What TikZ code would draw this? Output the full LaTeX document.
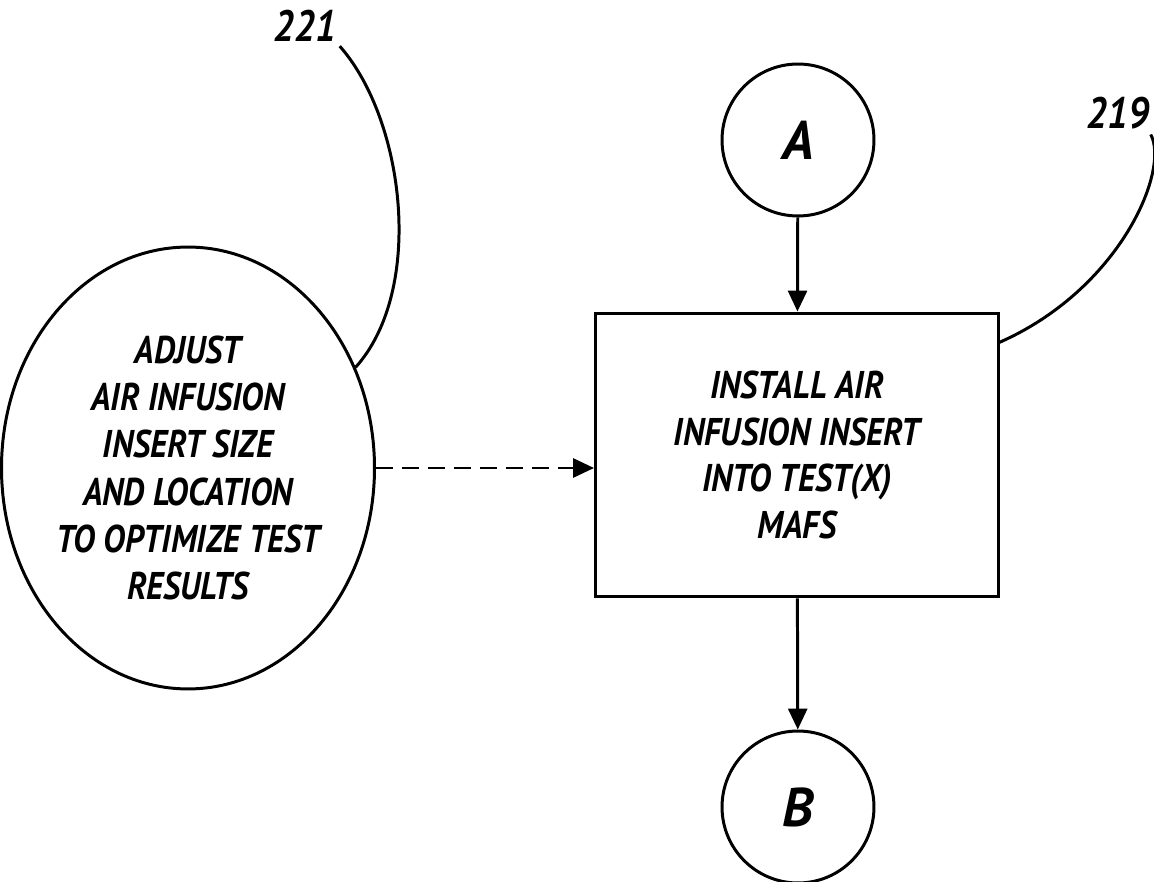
\documentclass[tikz,border=0pt]{standalone}
\usepackage{fontspec}
\setmainfont{PT Sans}
\newfontfamily\handfont[FakeStretch=0.87]{PT Sans}
\usetikzlibrary{arrows.meta,shapes.geometric}

\begin{document}
\begin{tikzpicture}[x=0.02cm,y=-0.02cm,line width=1.7pt,
    every node/.style={align=center,inner sep=0pt},
    flowbox/.style={draw,rectangle,minimum width=8.06cm,minimum height=5.68cm,
      font=\handfont\fontsize{22}{26.5}\selectfont\bfseries\itshape},
    oval/.style={draw,ellipse,minimum width=7.08cm,minimum height=8.84cm,
      font=\handfont\fontsize{22}{26.8}\selectfont\bfseries\itshape},
    connector/.style={draw,circle,minimum size=3.04cm,
      font=\fontsize{31}{31}\selectfont\bfseries\itshape},
    refnum/.style={font=\handfont\fontsize{25}{25}\selectfont\bfseries\itshape},
    flow/.style={-{Triangle[length=0.42cm,width=0.38cm]}},
    dashflow/.style={flow,dash pattern=on 0.34cm off 0.18cm}]
  \useasboundingbox (0,0) rectangle (1154,882);

  \node[connector] (A) at (798,140) {A};
  \node[flowbox] (install) at (797,455) {INSTALL AIR\\INFUSION INSERT\\INTO TEST(X)\\MAFS};
  \node[connector] (B) at (798,807) {B};
  \node[oval] (adjust) at (188,468) {ADJUST\\AIR INFUSION\\INSERT SIZE\\AND LOCATION\\TO OPTIMIZE TEST\\RESULTS};

  \node[refnum] (n221) at (305,26) {221};
  \node[refnum] (n219) at (1118,113) {219};
  \coordinate (t219) at (998,343);

  \draw[flow] (A) -- (install);
  \draw[flow] (install) -- (B);
  \draw[dashflow] (adjust.east) -- (adjust.east -| install.west);

  % leaders
  \draw (n221.south east) ++(2,3) .. controls (405,120) and (425,290) .. (adjust.31);
  \draw (n219.south east) ++(0,4) .. controls (1170,170) and (1120,290) .. (t219);
\end{tikzpicture}
\end{document}
